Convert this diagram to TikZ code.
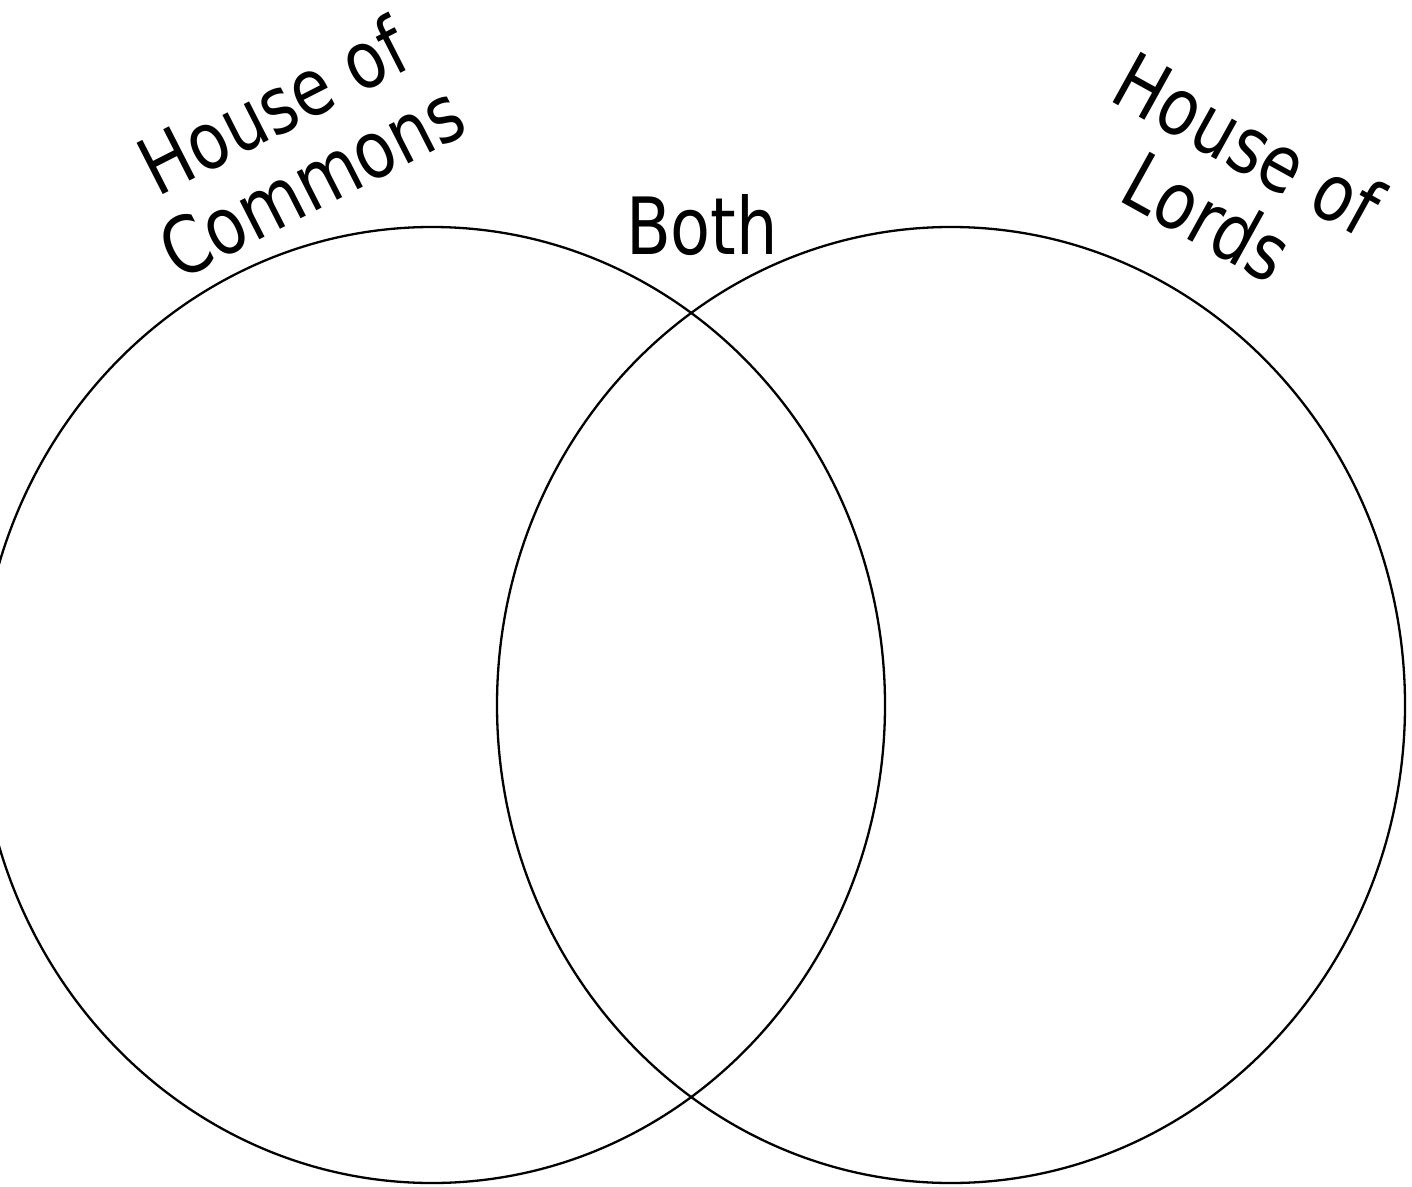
\documentclass[tikz,border=0pt]{standalone}
\usepackage{fontspec}
\usepackage{tikz}
\usepackage{xcolor}
\setmainfont{DejaVu Sans Condensed}[FakeStretch=0.92]
\usetikzlibrary{positioning}
\definecolor{cLine}{HTML}{000000}
\tikzset{
  vennset/.style={draw=cLine, line width=1.15pt},
  vennlabel/.style={font=\fontsize{39.5}{42}\selectfont, align=center, inner sep=0pt},
}
\begin{document}
\begin{tikzpicture}[x=0.5pt, y=-0.5pt]
  \useasboundingbox (0,0) rectangle (1412,1187);
  \coordinate (cCommons) at (432,705);
  \coordinate (cLords)   at (951,705);
  \begin{scope}
    \clip (0,0) rectangle (1412,1187);
    \draw[vennset] (cCommons) ellipse [x radius=453, y radius=478];
    \draw[vennset] (cLords)   ellipse [x radius=454, y radius=478];
  \end{scope}
  \node[vennlabel, rotate=27]  (commons) at (292,143) {House of\\Commons};
  \node[vennlabel, rotate=-29] (lords)   at (1228,180) {House of\\Lords};
  \node[vennlabel, anchor=base] (both)  at (702,255) {Both};
\end{tikzpicture}
\end{document}
